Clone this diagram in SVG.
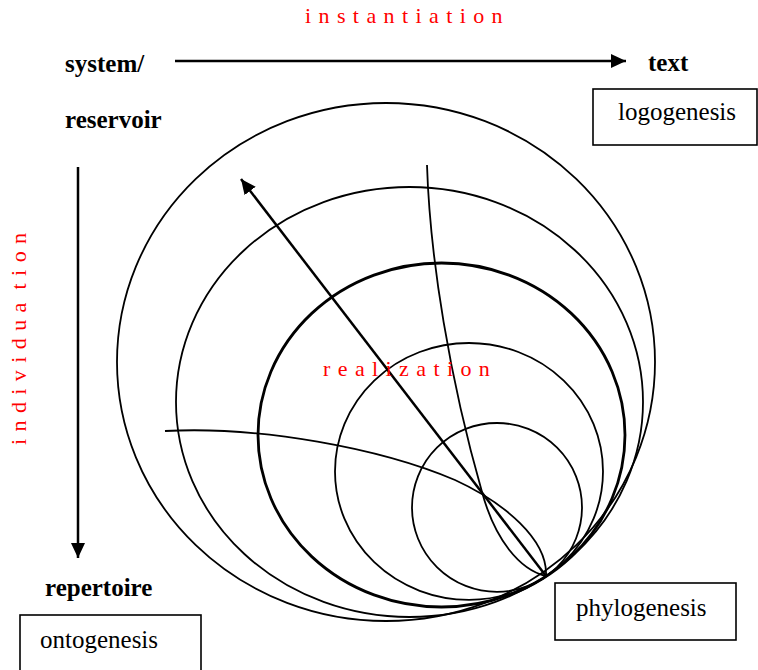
<svg xmlns="http://www.w3.org/2000/svg" width="758" height="670" viewBox="0 0 758 670">
<style>
.ring{fill:none;stroke:#000;stroke-width:1.8}
.thick{stroke-width:2.8}
.curve{fill:none;stroke:#000;stroke-width:1.8}
.arrow{fill:none;stroke:#000;stroke-width:2.5}
.box{fill:#fff;stroke:#000;stroke-width:1.6}
.bold{font-family:"Liberation Serif","Times New Roman",serif;font-weight:bold;font-size:25px;fill:#000}
.lbl{font-family:"Liberation Serif","Times New Roman",serif;font-size:25px;fill:#000}
.red{font-family:"Liberation Serif","Times New Roman",serif;font-size:22px;fill:#ff0000;letter-spacing:7.4px}
</style>
<defs>
<marker id="head" markerWidth="16" markerHeight="14" refX="15" refY="7" orient="auto" markerUnits="userSpaceOnUse">
<path d="M0,0 L15,7 L0,14 z" fill="#000"/>
</marker>
</defs>
<rect width="758" height="670" fill="#fff"/>
<g id="rings">
<ellipse id="ring1" class="ring" cx="386" cy="362" rx="269" ry="259"/>
<ellipse id="ring2" class="ring" cx="409.5" cy="402" rx="233.5" ry="215"/>
<ellipse id="ring3" class="ring thick" cx="441.5" cy="435" rx="183.5" ry="172"/>
<ellipse id="ring4" class="ring" cx="469" cy="471.4" rx="134" ry="128.4"/>
<ellipse id="ring5" class="ring" cx="497" cy="507.4" rx="85" ry="84.4"/>
</g>
<g id="connectors">
<path class="curve" d="M165,431 C260,426 380,448 455,480 C505,503 548,540 546,576"/>
<path class="curve" d="M427,165 C430,260 450,380 482,492 C495,540 520,570 546,576"/>
<line class="arrow" x1="546" y1="576" x2="241" y2="179" marker-end="url(#head)"/>
<line class="arrow" x1="175" y1="61" x2="626" y2="61" marker-end="url(#head)"/>
<line class="arrow" x1="78" y1="167" x2="78" y2="558" marker-end="url(#head)"/>
</g>
<g id="system">
<text class="bold" x="65" y="72">system/</text>
<text class="bold" x="65" y="128">reservoir</text>
</g>
<g id="text-node">
<text class="bold" x="648" y="71">text</text>
</g>
<g id="logogenesis">
<rect class="box" x="593" y="89" width="164" height="56"/>
<text class="lbl" x="618" y="120">logogenesis</text>
</g>
<g id="repertoire">
<text class="bold" x="45" y="596">repertoire</text>
</g>
<g id="ontogenesis">
<rect class="box" x="20" y="615" width="181" height="60"/>
<text class="lbl" x="40" y="648">ontogenesis</text>
</g>
<g id="phylogenesis">
<rect class="box" x="555" y="583" width="181" height="57"/>
<text class="lbl" x="576" y="616">phylogenesis</text>
</g>
<g id="labels">
<text class="red" x="305" y="23">instantiation</text>
<text class="red" x="323" y="376">realization</text>
<text class="red" style="word-spacing:-7px" transform="translate(26,445) rotate(-90)">individua tion</text>
</g>
</svg>
